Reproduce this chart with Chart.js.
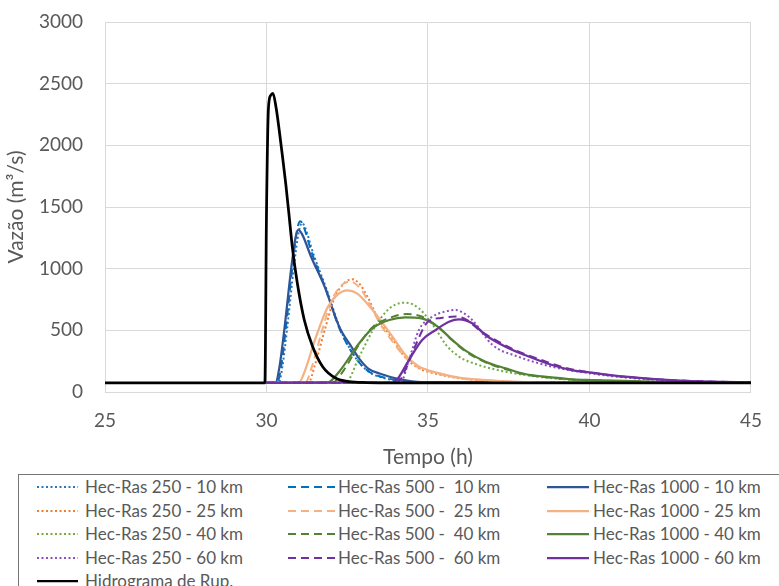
<!DOCTYPE html>
<html>
<head>
<meta charset="utf-8">
<script src="https://cdn.jsdelivr.net/npm/chart.js@4.4.1/dist/chart.umd.min.js"></script>
<style>
  html, body { margin: 0; padding: 0; background: #fff; overflow: hidden; }
  #wrap { position: relative; width: 779px; height: 586px; }
  #plot { position: absolute; left: 0; top: 0; }
  #legend {
    position: absolute; left: 18px; top: 474px; width: 800px; height: 150px;
    border: 1px solid #767676; box-sizing: border-box;
    font-family: Lato, sans-serif; font-size: 17px; color: #595959;
  }
  .swatch { position: absolute; }
  .label { position: absolute; white-space: pre; line-height: 20px; height: 20px; }
</style>
</head>
<body>
<div id="wrap">
  <canvas id="plot" width="779" height="472"></canvas>
  <div id="legend"></div>
</div>
<script>
// Hidrograma de ruptura (tempo em horas, vazão em m³/s)
const tRup = [25, 29.95, 30.0, 30.06, 30.13, 30.2, 30.3, 30.4, 30.5, 30.6, 30.7, 30.8, 30.95, 31.17, 31.43, 31.74, 32.15, 32.56, 33.1, 34, 45];
const qRup = [75, 75, 1450, 2300, 2405, 2422, 2300, 2110, 1900, 1680, 1430, 1175, 890, 584, 367, 205, 111, 84, 77, 75, 75];

// Seção a 10 km
const t250_10 = [30, 30.38, 30.5, 30.65, 30.85, 31.0, 31.1, 31.2, 31.45, 31.85, 32.3, 32.65, 32.95, 33.25, 33.6, 34.2, 34.9, 45];
const q250_10 = [75, 76, 220, 540, 1020, 1300, 1370, 1330, 1120, 840, 500, 320, 215, 150, 115, 88, 77, 75];
const t500_10 = [30, 30.33, 30.45, 30.6, 30.8, 30.95, 31.05, 31.15, 31.4, 31.8, 32.25, 32.6, 32.9, 33.2, 33.6, 34.2, 34.9, 45];
const q500_10 = [75, 76, 200, 520, 1010, 1320, 1385, 1340, 1130, 860, 520, 340, 230, 160, 120, 90, 78, 75];
const t1000_10 = [30, 30.28, 30.4, 30.55, 30.76, 30.9, 30.98, 31.1, 31.38, 31.8, 32.25, 32.63, 32.9, 33.15, 33.5, 34.1, 34.8, 45];
const q1000_10 = [75, 76, 200, 500, 990, 1250, 1314, 1280, 1097, 854, 530, 367, 260, 190, 150, 105, 80, 75];

// Seção a 25 km
const t250_25 = [30, 31.3, 31.5, 31.8, 32.1, 32.4, 32.65, 32.9, 33.15, 33.4, 33.9, 34.3, 34.7, 35.3, 36, 36.9, 37.8, 39, 45];
const q250_25 = [75, 76, 220, 500, 760, 880, 915, 870, 760, 624, 430, 280, 195, 145, 110, 92, 80, 76, 75];
const t500_25 = [30, 31.2, 31.4, 31.7, 32.0, 32.3, 32.6, 32.9, 33.2, 33.5, 33.9, 34.3, 34.7, 35.3, 36, 36.9, 37.8, 39, 45];
const q500_25 = [75, 76, 200, 480, 730, 860, 895, 840, 710, 560, 410, 280, 200, 150, 112, 93, 80, 76, 75];
const t1000_25 = [30, 31.0, 31.2, 31.5, 31.9, 32.2, 32.5, 32.8, 33.2, 33.6, 33.9, 34.3, 34.7, 35.3, 36.0, 36.9, 37.8, 39, 45];
const q1000_25 = [75, 76, 180, 422, 692, 790, 825, 800, 692, 557, 449, 300, 210, 155, 115, 95, 82, 76, 75];

// Seção a 40 km
const t250_40 = [30, 32.45, 32.87, 33.3, 33.7, 34.0, 34.3, 34.72, 35.24, 35.55, 35.96, 36.57, 37.4, 38.2, 39.0, 40, 41.5, 45];
const q250_40 = [75, 78, 286, 503, 651, 710, 724, 678, 510, 385, 287, 219, 165, 130, 108, 92, 80, 75];
const t500_40 = [30, 32.05, 32.4, 32.9, 33.3, 33.8, 34.35, 34.8, 35.3, 35.75, 36.16, 36.78, 37.4, 38.0, 38.84, 39.45, 40.06, 41.1, 42.5, 45];
const q500_40 = [75, 78, 180, 400, 530, 600, 632, 612, 530, 420, 330, 240, 185, 142, 115, 101, 95, 88, 79, 75];
const t1000_40 = [30, 31.9, 32.25, 32.87, 33.28, 33.8, 34.3, 34.8, 35.3, 35.75, 36.16, 36.78, 37.4, 38.0, 38.84, 39.45, 40.06, 41.1, 42.5, 45];
const q1000_40 = [75, 78, 165, 395, 516, 584, 606, 597, 530, 422, 335, 246, 192, 146, 119, 103, 97, 90, 80, 75];

// Seção a 60 km
const t250_60 = [30, 34.15, 34.4, 34.72, 35.13, 35.5, 35.85, 36.1, 36.37, 37.0, 37.8, 38.84, 39.8, 40.8, 41.8, 43, 44.7, 45];
const q250_60 = [75, 76, 250, 503, 610, 650, 665, 640, 584, 381, 286, 205, 160, 125, 103, 88, 78, 77];
const t500_60 = [30, 34.05, 34.3, 34.6, 35.0, 35.4, 35.85, 36.2, 36.6, 37.1, 37.7, 38.4, 39.2, 40.1, 41.1, 42.1, 43.2, 44.7, 45];
const q500_60 = [75, 76, 180, 370, 570, 600, 612, 585, 500, 420, 340, 270, 200, 155, 124, 103, 89, 79, 78];
const t1000_60 = [30, 33.9, 34.05, 34.41, 34.82, 35.24, 35.65, 35.96, 36.37, 36.78, 37.4, 38.0, 38.84, 39.45, 40.07, 41.1, 42.13, 43.15, 44.7, 45];
const q1000_60 = [75, 76, 103, 259, 422, 503, 570, 589, 557, 462, 367, 300, 219, 178, 157, 124, 103, 89, 79, 78];

// Eixos
const xTicks = { min: 25, max: 45, step: 5 };
const yTicks = { min: 0, max: 3000, step: 500 };

const DOT = [2, 2.5];
const DASH = [8, 5];

const pts = (t, q) => t.map((x, i) => ({ x, y: q[i] }));

// Ordem da série no gráfico (a última fica por cima)
const series = [
  { label: 'Hec-Ras 250 - 10 km',   t: t250_10,  q: q250_10,  color: '#2E75B6', dash: DOT,  w: 2,   col: 0, row: 0 },
  { label: 'Hec-Ras 500 -  10 km',  t: t500_10,  q: q500_10,  color: '#0070C0', dash: DASH, w: 2,   col: 1, row: 0 },
  { label: 'Hec-Ras 1000 - 10 km',  t: t1000_10, q: q1000_10, color: '#2F5597', dash: [],   w: 2.25, col: 2, row: 0 },
  { label: 'Hec-Ras 250 - 25 km',   t: t250_25,  q: q250_25,  color: '#ED7D31', dash: DOT,  w: 2,   col: 0, row: 1 },
  { label: 'Hec-Ras 500 -  25 km',  t: t500_25,  q: q500_25,  color: '#F4B183', dash: DASH, w: 2,   col: 1, row: 1 },
  { label: 'Hec-Ras 1000 - 25 km',  t: t1000_25, q: q1000_25, color: '#F4B183', dash: [],   w: 2.25, col: 2, row: 1 },
  { label: 'Hec-Ras 250 - 40 km',   t: t250_40,  q: q250_40,  color: '#70AD47', dash: DOT,  w: 2,   col: 0, row: 2 },
  { label: 'Hec-Ras 500 -  40 km',  t: t500_40,  q: q500_40,  color: '#548235', dash: DASH, w: 2,   col: 1, row: 2 },
  { label: 'Hec-Ras 1000 - 40 km',  t: t1000_40, q: q1000_40, color: '#548235', dash: [],   w: 2.25, col: 2, row: 2 },
  { label: 'Hec-Ras 250 - 60 km',   t: t250_60,  q: q250_60,  color: '#8A4FC2', dash: DOT,  w: 2,   col: 0, row: 3 },
  { label: 'Hec-Ras 500 -  60 km',  t: t500_60,  q: q500_60,  color: '#7030A0', dash: DASH, w: 2,   col: 1, row: 3 },
  { label: 'Hec-Ras 1000 - 60 km',  t: t1000_60, q: q1000_60, color: '#7030A0', dash: [],   w: 2.25, col: 2, row: 3 },
  { label: 'Hidrograma de Rup.',    t: tRup,     q: qRup,     color: '#000000', dash: [],   w: 2.75, col: 0, row: 4 }
];

const datasets = series.map((s, i) => ({
  label: s.label,
  data: pts(s.t, s.q),
  borderColor: s.color,
  backgroundColor: s.color,
  borderWidth: s.w,
  borderDash: s.dash,
  borderCapStyle: 'butt',
  borderJoinStyle: 'round',
  pointRadius: 0,
  fill: false,
  cubicInterpolationMode: 'monotone',
  order: series.length - i
}));

const axisGray = '#d9d9d9';
const textGray = '#595959';
const plain = (v) => String(v);

new Chart(document.getElementById('plot'), {
  type: 'line',
  data: { datasets },
  options: {
    responsive: false,
    animation: false,
    events: [],
    layout: { autoPadding: false, padding: { top: 22, right: 26, left: 0, bottom: 0 } },
    plugins: { legend: { display: false }, tooltip: { enabled: false } },
    scales: {
      x: {
        type: 'linear',
        min: xTicks.min, max: xTicks.max,
        ticks: { stepSize: xTicks.step, callback: plain, color: textGray, font: { family: 'Lato', size: 19 }, padding: 17 },
        grid: { color: axisGray, lineWidth: 1, drawTicks: false },
        border: { color: axisGray, width: 1 },
        title: { display: true, text: 'Tempo (h)', color: textGray, font: { family: 'Lato', size: 21 }, padding: { top: 0, bottom: 2 } },
        afterFit: (s) => { s.height = 80; }
      },
      y: {
        type: 'linear',
        min: yTicks.min, max: yTicks.max,
        ticks: { stepSize: yTicks.step, callback: plain, color: textGray, font: { family: 'Lato', size: 19 }, padding: 22 },
        grid: { color: axisGray, lineWidth: 1, drawTicks: false },
        border: { color: axisGray, width: 1 },
        title: { display: true, text: 'Vazão (m³/s)', color: textGray, font: { family: 'Lato, "Open Sans", sans-serif', size: 21 }, padding: { top: 4, bottom: 0 } },
        afterFit: (s) => { s.width = 105; s.paddingTop = 0; s.paddingBottom = 0; }
      }
    }
  }
});

// Legenda em três colunas
const legend = document.getElementById('legend');
const colLine = [{ x: 18, w: 41 }, { x: 269, w: 49 }, { x: 528, w: 42 }];
const colText = [66, 319, 574];
const rowY = [12, 35.5, 59, 82.5, 106];
const svgNS = 'http://www.w3.org/2000/svg';
series.forEach((s) => {
  const c = colLine[s.col];
  const cy = rowY[s.row];
  const svg = document.createElementNS(svgNS, 'svg');
  svg.setAttribute('class', 'swatch');
  svg.setAttribute('width', c.w);
  svg.setAttribute('height', 6);
  svg.style.left = c.x + 'px';
  svg.style.top = (cy - 3) + 'px';
  const ln = document.createElementNS(svgNS, 'line');
  ln.setAttribute('x1', 0); ln.setAttribute('x2', c.w);
  ln.setAttribute('y1', 3); ln.setAttribute('y2', 3);
  ln.setAttribute('stroke', s.color);
  ln.setAttribute('stroke-width', Math.min(s.w, 2.25));
  if (s.dash.length) ln.setAttribute('stroke-dasharray', s.dash.join(' '));
  svg.appendChild(ln);
  legend.appendChild(svg);
  const lab = document.createElement('div');
  lab.className = 'label';
  lab.textContent = s.label;
  lab.style.left = colText[s.col] + 'px';
  lab.style.top = (cy - 10) + 'px';
  legend.appendChild(lab);
});
</script>
</body>
</html>
